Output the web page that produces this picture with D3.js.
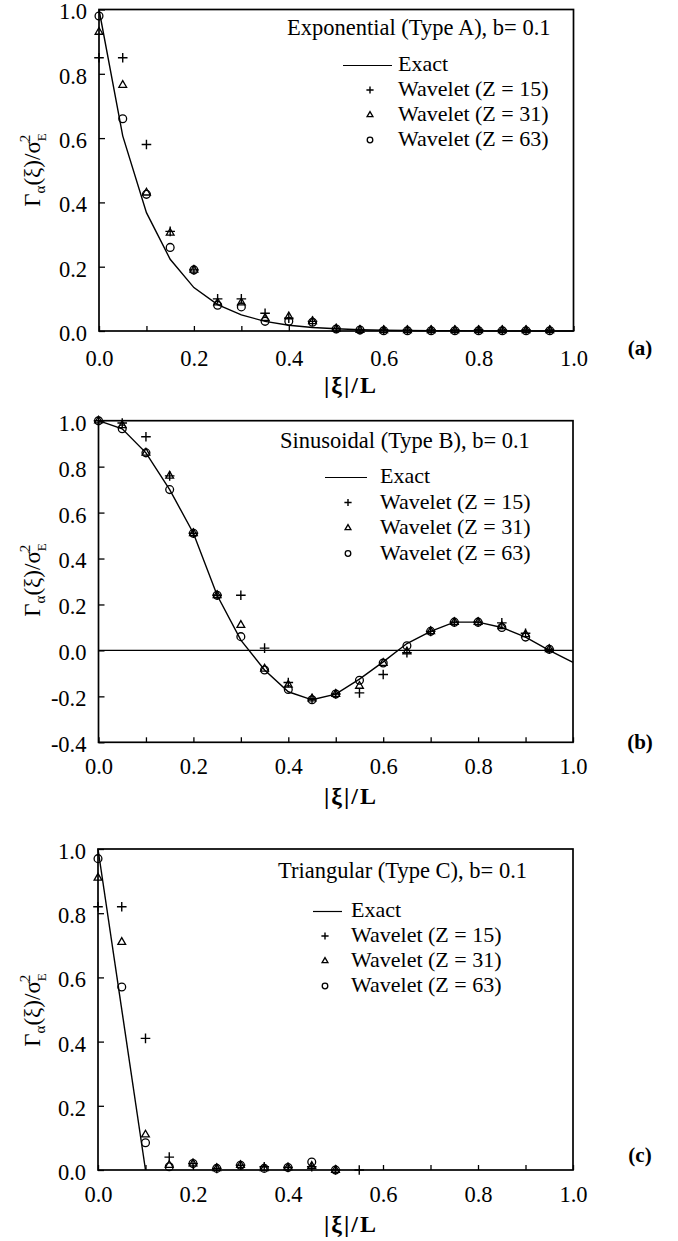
<!DOCTYPE html>
<html><head><meta charset="utf-8">
<script src="https://cdn.jsdelivr.net/npm/d3@7"></script>
<style>
body{margin:0;background:#fff}
svg{display:block}
svg text{font-family:"Liberation Serif","Times New Roman",serif !important;fill:#000}
</style>
</head><body>
<svg id="chart" width="678" height="1241"></svg>
<script>
// ---------- data ----------
const xMarks = [0,0.05,0.1,0.15,0.2,0.25,0.3,0.35,0.4,0.45,0.5,0.55,0.6,0.65,0.7,0.75,0.8,0.85,0.9,0.95];
const xLine  = [0,0.05,0.1,0.15,0.2,0.25,0.3,0.35,0.4,0.45,0.5,0.55,0.6,0.65,0.7,0.75,0.8,0.85,0.9,0.95,1.0];
const xMinorTicks = [0,0.1,0.2,0.3,0.4,0.5,0.6,0.7,0.8,0.9,1.0];
const xTickValues = [0,0.2,0.4,0.6,0.8,1.0];
const xTickLabels = ["0.0","0.2","0.4","0.6","0.8","1.0"];
const yTickValuesAC = [0,0.2,0.4,0.6,0.8,1.0];
const yTickLabelsAC = ["0.0","0.2","0.4","0.6","0.8","1.0"];
const yTickValuesB = [-0.4,-0.2,0,0.2,0.4,0.6,0.8,1.0];
const yTickLabelsB = ["-0.4","-0.2","0.0","0.2","0.4","0.6","0.8","1.0"];
const seriesNames = ["Exact","Wavelet (Z = 15)","Wavelet (Z = 31)","Wavelet (Z = 63)"];
const panelTitles = ["Exponential (Type A), b= 0.1","Sinusoidal (Type B), b= 0.1","Triangular (Type C), b= 0.1"];
const panelTags = ["(a)","(b)","(c)"];

// (a) exponential
const expExact = [1.0,0.607,0.368,0.223,0.135,0.082,0.050,0.030,0.018,0.011,0.007,0.004,0.0025,0.0015,0.001,0.0006,0.0004,0.0002,0.0001,0.0001,0.0];
const expZ15 = [0.85,0.85,0.58,0.31,0.19,0.10,0.10,0.055,0.04,0.03,0.008,0.004,0.003,0.003,0.003,0.003,0.004,0.003,0.003,0.003];
const expZ31 = [0.93,0.765,0.43,0.305,0.19,0.088,0.088,0.04,0.045,0.03,0.007,0.003,0.002,0.002,0.002,0.002,0.002,0.002,0.002,0.002];
const expZ63 = [0.98,0.66,0.425,0.26,0.19,0.08,0.075,0.03,0.03,0.027,0.006,0.003,0.001,0.001,0.001,0.001,0.001,0.001,0.001,0.001];

// (b) sinusoidal
const sinExact = [1.0,0.965,0.86,0.70,0.51,0.24,0.045,-0.085,-0.18,-0.215,-0.19,-0.125,-0.05,0.03,0.083,0.123,0.123,0.10,0.058,0.0,-0.052];
const sinZ15 = [1.0,0.99,0.93,0.76,0.51,0.24,0.24,0.01,-0.14,-0.21,-0.19,-0.185,-0.105,-0.01,0.083,0.123,0.123,0.12,0.075,0.005];
const sinZ31 = [1.0,0.98,0.86,0.76,0.51,0.24,0.11,-0.08,-0.15,-0.21,-0.19,-0.155,-0.055,-0.005,0.083,0.123,0.123,0.105,0.07,0.005];
const sinZ63 = [1.0,0.965,0.86,0.70,0.51,0.24,0.06,-0.085,-0.17,-0.215,-0.19,-0.13,-0.055,0.02,0.083,0.123,0.123,0.10,0.058,0.005];

// (c) triangular
const triExactX = [0,0.1];
const triExact = [1.0,0.0];
const triZ15 = [0.82,0.82,0.41,0.04,0.02,0.005,0.015,0.01,0.008,0.01,0.0,0.0];
const triZ31 = [0.91,0.71,0.11,0.015,0.02,0.005,0.015,0.005,0.008,0.012,0.0];
const triZ63 = [0.97,0.57,0.085,0.01,0.02,0.005,0.015,0.005,0.008,0.025,0.0];

// ---------- drawing ----------
const svg = d3.select("#chart");
const SERIF = '"Liberation Serif","Times New Roman",serif';
const FONT_TICK = 22.5, FONT_LEG = 22, FONT_TITLE = 22.5;

const panels = [
  {left:99, right:573.5, top:9.5, bottom:331, yDom:[0,1], yT:yTickValuesAC, yL:yTickLabelsAC,
   exactX:xLine, exact:expExact, z:[expZ15,expZ31,expZ63], zeroLine:false,
   leg:{tx:287, ty:35, rows:[71,96,121,146], l0:343, l1:392, mx:370, textX:398},
   tagY:355, xPad:19, ytitleY:170},
  {left:98.5, right:573, top:420.7, bottom:742.3, yDom:[-0.4,1], yT:yTickValuesB, yL:yTickLabelsB,
   exactX:xLine, exact:sinExact, z:[sinZ15,sinZ31,sinZ63], zeroLine:true,
   leg:{tx:280, ty:448, rows:[483,508.5,534,559.5], l0:325, l1:367, mx:348, textX:380},
   tagY:749, xPad:16, ytitleY:580},
  {left:98, right:573, top:849, bottom:1170, yDom:[0,1], yT:yTickValuesAC, yL:yTickLabelsAC,
   exactX:triExactX, exact:triExact, z:[triZ15,triZ31,triZ63], zeroLine:false,
   leg:{tx:278, ty:878, rows:[917,942,967,992], l0:313, l1:342, mx:325, textX:351},
   tagY:1162, xPad:16, ytitleY:1010}
];

function plusPath(s){ return `M${-s},0H${s}M0,${-s}V${s}`; }

function drawMarker(g, kind, x, y, big){
  if(kind===0){
    const s = big?4.8:3.6;
    g.append("path").attr("d",plusPath(s)).attr("transform",`translate(${x},${y})`)
      .attr("stroke","#000").attr("stroke-width",1.4).attr("fill","none");
  } else if(kind===1){
    g.append("path").attr("d",d3.symbol(d3.symbolTriangle, big?26:15)())
      .attr("transform",`translate(${x},${y})`)
      .attr("stroke","#000").attr("stroke-width",1.3).attr("fill","none");
  } else {
    g.append("circle").attr("cx",x).attr("cy",y).attr("r",big?3.9:2.8)
      .attr("stroke","#000").attr("stroke-width",1.3).attr("fill","none");
  }
}

panels.forEach((p,i)=>{
  const g = svg.append("g");
  const x = d3.scaleLinear().domain([0,1]).range([p.left,p.right]);
  const y = d3.scaleLinear().domain(p.yDom).range([p.bottom,p.top]);

  // minor x ticks (inward)
  const xMinor = d3.axisBottom(x).tickValues(xMinorTicks).tickSizeInner(-5).tickSizeOuter(0).tickFormat("");
  const gxm = g.append("g").attr("transform",`translate(0,${p.bottom})`).call(xMinor);
  gxm.select(".domain").remove();
  gxm.selectAll("line").attr("stroke-width",1.3);

  // x labels
  const xLab = d3.axisBottom(x).tickValues(xTickValues).tickSize(0).tickPadding(p.xPad)
      .tickFormat((d,k)=>xTickLabels[k]);
  const gx = g.append("g").attr("transform",`translate(0,${p.bottom})`).call(xLab)
      .attr("font-family",SERIF).attr("font-size",FONT_TICK);
  gx.select(".domain").remove();
  gx.selectAll("text").style("font-family",SERIF).style("font-size",FONT_TICK+"px");

  // y axis
  const yAx = d3.axisLeft(y).tickValues(p.yT).tickSizeInner(-6).tickSizeOuter(0).tickPadding(12)
      .tickFormat((d,k)=>p.yL[k]);
  const gy = g.append("g").attr("transform",`translate(${p.left},0)`).call(yAx)
      .attr("font-family",SERIF).attr("font-size",FONT_TICK);
  gy.select(".domain").remove();
  gy.selectAll("line").attr("stroke-width",1.3);
  gy.selectAll("text").style("font-family",SERIF).style("font-size",FONT_TICK+"px").attr("dy","0.42em");

  // frame
  g.append("rect").attr("x",p.left).attr("y",p.top).attr("width",p.right-p.left).attr("height",p.bottom-p.top)
    .attr("fill","none").attr("stroke","#000").attr("stroke-width",1.7);

  if(p.zeroLine){
    g.append("line").attr("x1",p.left).attr("x2",p.right).attr("y1",y(0)).attr("y2",y(0))
      .attr("stroke","#000").attr("stroke-width",1.2);
  }

  // exact line
  const line = d3.line().x(d=>x(d[0])).y(d=>y(d[1]));
  g.append("path").datum(p.exactX.map((v,k)=>[v,p.exact[k]])).attr("d",line)
    .attr("fill","none").attr("stroke","#000").attr("stroke-width",1.4);

  // markers
  p.z.forEach((arr,kind)=>{
    arr.forEach((v,k)=>drawMarker(g,kind,x(xMarks[k]),y(v),true));
  });

  // legend
  const L = p.leg;
  g.append("text").attr("x",L.tx).attr("y",L.ty).style("font-size",FONT_TITLE+"px").text(panelTitles[i]);
  seriesNames.forEach((nm,k)=>{
    const by = L.rows[k];
    if(k===0){
      g.append("line").attr("x1",L.l0).attr("x2",L.l1).attr("y1",by-5.5).attr("y2",by-5.5)
        .attr("stroke","#000").attr("stroke-width",1.2);
    } else {
      drawMarker(g,k-1,L.mx,by-6,false);
    }
    g.append("text").attr("x",L.textX).attr("y",by).style("font-size",FONT_LEG+"px").text(nm);
  });

  // panel tag
  g.append("text").attr("x",640).attr("y",p.tagY).attr("text-anchor","middle")
    .style("font-size","21px").attr("font-weight","bold").text(panelTags[i]);

  // x title
  g.append("text").attr("x",351).attr("y",p.bottom+62).attr("text-anchor","middle")
    .style("font-size","24px").attr("font-weight","bold").attr("letter-spacing",2).text("|ξ|/L");

  // y title
  const yt = g.append("text").attr("transform",`translate(40,${p.ytitleY}) rotate(-90)`)
    .attr("text-anchor","middle").style("font-size","23px");
  yt.append("tspan").text("Γ");
  yt.append("tspan").attr("dy",5).style("font-size","15px").text("α");
  yt.append("tspan").attr("dy",-5).text("(ξ)/σ");
  yt.append("tspan").attr("dy",6).style("font-size","13px").text("E");
  yt.append("tspan").attr("dx",-9).attr("dy",-16).style("font-size","15px").text("2");
});
</script>
</body></html>
